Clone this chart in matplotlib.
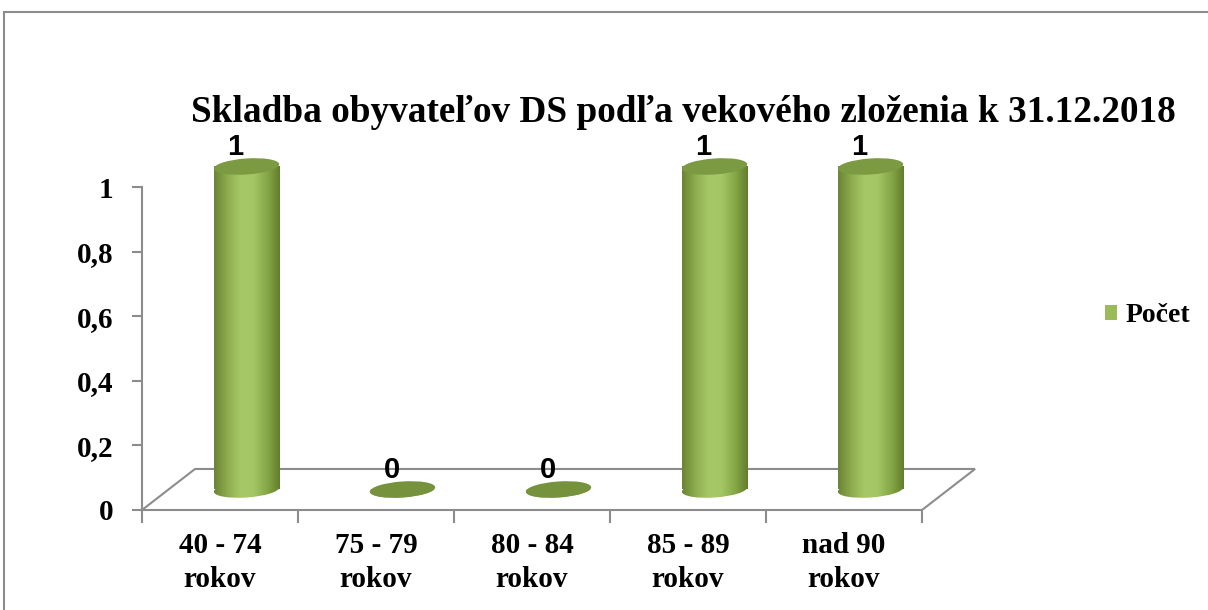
import numpy as np
import matplotlib.pyplot as plt
from matplotlib.patches import Ellipse, Rectangle, Patch
from matplotlib.colors import LinearSegmentedColormap
from matplotlib.transforms import ScaledTranslation

# data
categories = ['40 - 74\nrokov', '75 - 79\nrokov', '80 - 84\nrokov', '85 - 89\nrokov', 'nad 90\nrokov']
values = [1, 0, 0, 1, 1]
yticks = [0, 0.2, 0.4, 0.6, 0.8, 1]
ytick_labels = ['0', '0,2', '0,4', '0,6', '0,8', '1']
title = 'Skladba obyvateľov DS podľa vekového zloženia k 31.12.2018'
series_name = 'Počet'

plt.rcParams['font.family'] = ['Liberation Serif', 'DejaVu Serif']
plt.rcParams['font.weight'] = 'bold'

GRAY = '#8c8c8c'
W, H = 1208, 610
fig = plt.figure(figsize=(W / 100, H / 100), dpi=100)
ax = fig.add_axes([142 / W, (H - 510) / H, 858 / W, 1.25 * 323 / H])
ax.patch.set_visible(False)
ax.set_xlim(-0.5, 5.0)
ax.set_ylim(0, 1.25)

# depth of the 3d floor (in data units)
dx, dy = 0.34, 0.127
bw = 0.42        # cylinder width
eh = 16          # ellipse height, px
tilt = 4

sx = ax.transData.transform((1, 0))[0] - ax.transData.transform((0, 0))[0]

# floor
ax.plot([-0.5, -0.5 + dx, 4.5 + dx, 4.5], [0, dy, dy, 0], color=GRAY, lw=1.5, zorder=1,
        solid_joinstyle='miter')

cmap = LinearSegmentedColormap.from_list(
    'cyl', ['#6a8533', '#8dab4f', '#a6c866', '#a4c664', '#88a848', '#627d2e'])
grad = np.linspace(0, 1, 256).reshape(1, -1)

for i, v in enumerate(values):
    cx = i + dx / 2
    base = dy / 2
    rect = ax.bar(cx, v, bottom=base, width=bw, color='none', edgecolor='none')[0]
    bot = Ellipse((0, 0), bw * sx, eh, angle=tilt,
                  transform=ScaledTranslation(cx, base, ax.transData))
    for clip in (rect, bot):
        im = ax.imshow(grad, cmap=cmap, aspect='auto', zorder=2,
                       extent=[cx - bw / 2, cx + bw / 2, base - 0.05, base + v])
        im.set_clip_path(clip)
    cap_color = '#7b9a42' if v else '#76923c'
    ax.add_patch(Ellipse((0, 0), bw * sx, eh, angle=tilt, facecolor=cap_color,
                         edgecolor='none', zorder=3,
                         transform=ScaledTranslation(cx, base + v, ax.transData)))
    ax.text(i + 0.1, v + base + 0.036, str(v), ha='center', va='baseline',
            fontsize=21, fontweight='bold', family='Liberation Sans', zorder=4)

ax.set_xlim(-0.5, 5.0)
ax.set_ylim(0, 1.25)

for s in ['top', 'right']:
    ax.spines[s].set_visible(False)
ax.spines['left'].set_bounds(0, 1)
ax.spines['bottom'].set_bounds(-0.5, 4.5)
for s in ['left', 'bottom']:
    ax.spines[s].set_color(GRAY)
    ax.spines[s].set_linewidth(1.5)

ax.set_yticks(yticks, ytick_labels)
ax.tick_params(axis='y', length=7, width=1.5, color=GRAY, pad=13.5, labelsize=21)
ax.set_xticks(range(len(categories)), categories)
ax.set_xticks(np.arange(-0.5, 5.0, 1), minor=True)
ax.tick_params(axis='x', which='major', length=0, pad=16, labelsize=21)
ax.tick_params(axis='x', which='minor', length=9, width=1.5, color=GRAY)
for lbl in ax.get_xticklabels():
    lbl.set_linespacing(1.32)

fig.text(683.5 / W, 1 - 122 / H, title, ha='center', va='baseline', fontsize=26.8,
         fontweight='bold')

fig.legend(handles=[Patch(facecolor='#9bbb59', edgecolor='none', label=series_name)],
           loc='center left', bbox_to_anchor=(1105 / W, 1 - 316 / H), frameon=False,
           prop={'family': 'Liberation Serif', 'weight': 'bold', 'size': 20},
           handlelength=0.43, handleheight=0.43, handletextpad=0.32,
           borderpad=0, borderaxespad=0)

fig.add_artist(Rectangle((4 / W, -0.5), 2, 1.5 - 12 / H, transform=fig.transFigure,
                         fill=False, edgecolor=GRAY, lw=1.5))

fig.savefig('out.png', dpi=100)
